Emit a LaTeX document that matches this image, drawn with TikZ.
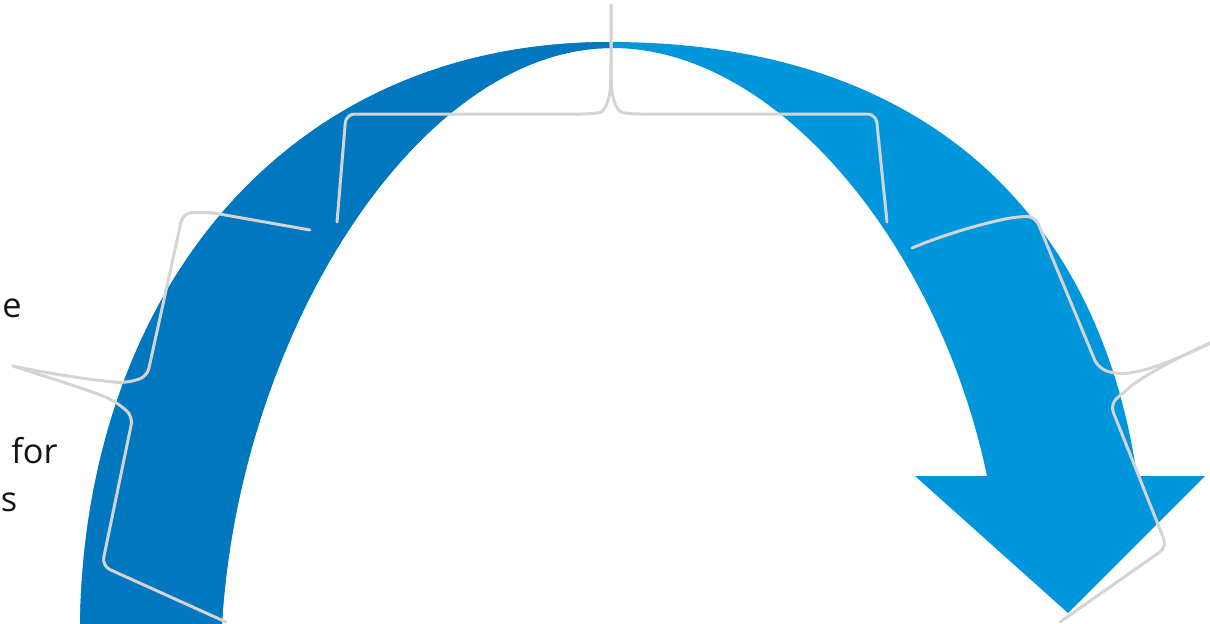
\documentclass[tikz,border=0pt]{standalone}
\usepackage{fontspec}
\setmainfont{Open Sans}
\definecolor{darkarch}{RGB}{0,119,190}
\definecolor{lightarch}{RGB}{0,150,220}
\definecolor{bracegray}{RGB}{212,212,212}
\begin{document}
\begin{tikzpicture}[x=0.02cm,y=-0.02cm,
  brace/.style={draw=bracegray, line width=1.7pt, rounded corners=5pt, line cap=round, line join=round},
  lbl/.style={inner sep=0pt, font=\fontsize{19.5}{22}\selectfont, text=black!92}]
\useasboundingbox (0,0) rectangle (1210,623);
\clip (0,0) rectangle (1210,623);
% arch, light part
\fill[lightarch] (80,630) -- (80,623) .. controls (85,300) and (280,42) .. (610,42)
  .. controls (930,42) and (1100,220) .. (1137,476) -- (1205,476) -- (1068,613) -- (915,476) -- (987,476)
  .. controls (940,250) and (780,48) .. (612,48)
  .. controls (420,48) and (240,330) .. (222,623) -- (222,630) -- cycle;
% arch, dark left part
\begin{scope}
\clip (0,0) rectangle (611,640);
\fill[darkarch] (80,630) -- (80,623) .. controls (85,300) and (280,42) .. (610,42)
  .. controls (930,42) and (1100,220) .. (1137,476) -- (1205,476) -- (1068,613) -- (915,476) -- (987,476)
  .. controls (940,250) and (780,48) .. (612,48)
  .. controls (420,48) and (240,330) .. (222,623) -- (222,630) -- cycle;
\end{scope}
% braces
\coordinate (toptip) at (611,5);
\coordinate (lefttip) at (13,366);
\coordinate (righttip) at (1222,338);
\draw[brace] (337,222) -- (346,114) -- (590,114) .. controls (605,112) and (610,100) .. (611,75) -- (toptip);
\draw[brace] (toptip) -- (611,75) .. controls (612,100) and (617,112) .. (632,114) -- (876,114) -- (887,222);
\draw[brace] (310,230) -- (208,212) -- (183,213) -- (147,377) -- (125,383) .. controls (90,380) and (40,372) .. (lefttip);
\draw[brace] (lefttip) .. controls (50,378) and (95,392) .. (116,402) -- (133,416) -- (102,566) -- (226,622);
\draw[brace] (912,248) .. controls (950,232) and (990,222) .. (1015,217) -- (1035,216) -- (1098,368) -- (1115,374) .. controls (1150,372) and (1185,355) .. (righttip);
\draw[brace] (righttip) .. controls (1180,355) and (1140,378) .. (1122,394) -- (1110,404) -- (1167,547) -- (1060,622);
% text
\node[lbl, anchor=base east] (t1) at (22,317) {e};
\node[lbl, anchor=base east] (t2) at (58,463) {for};
\node[lbl, anchor=base west] (t3) at (0.5,511) {s};
\end{tikzpicture}
\end{document}
